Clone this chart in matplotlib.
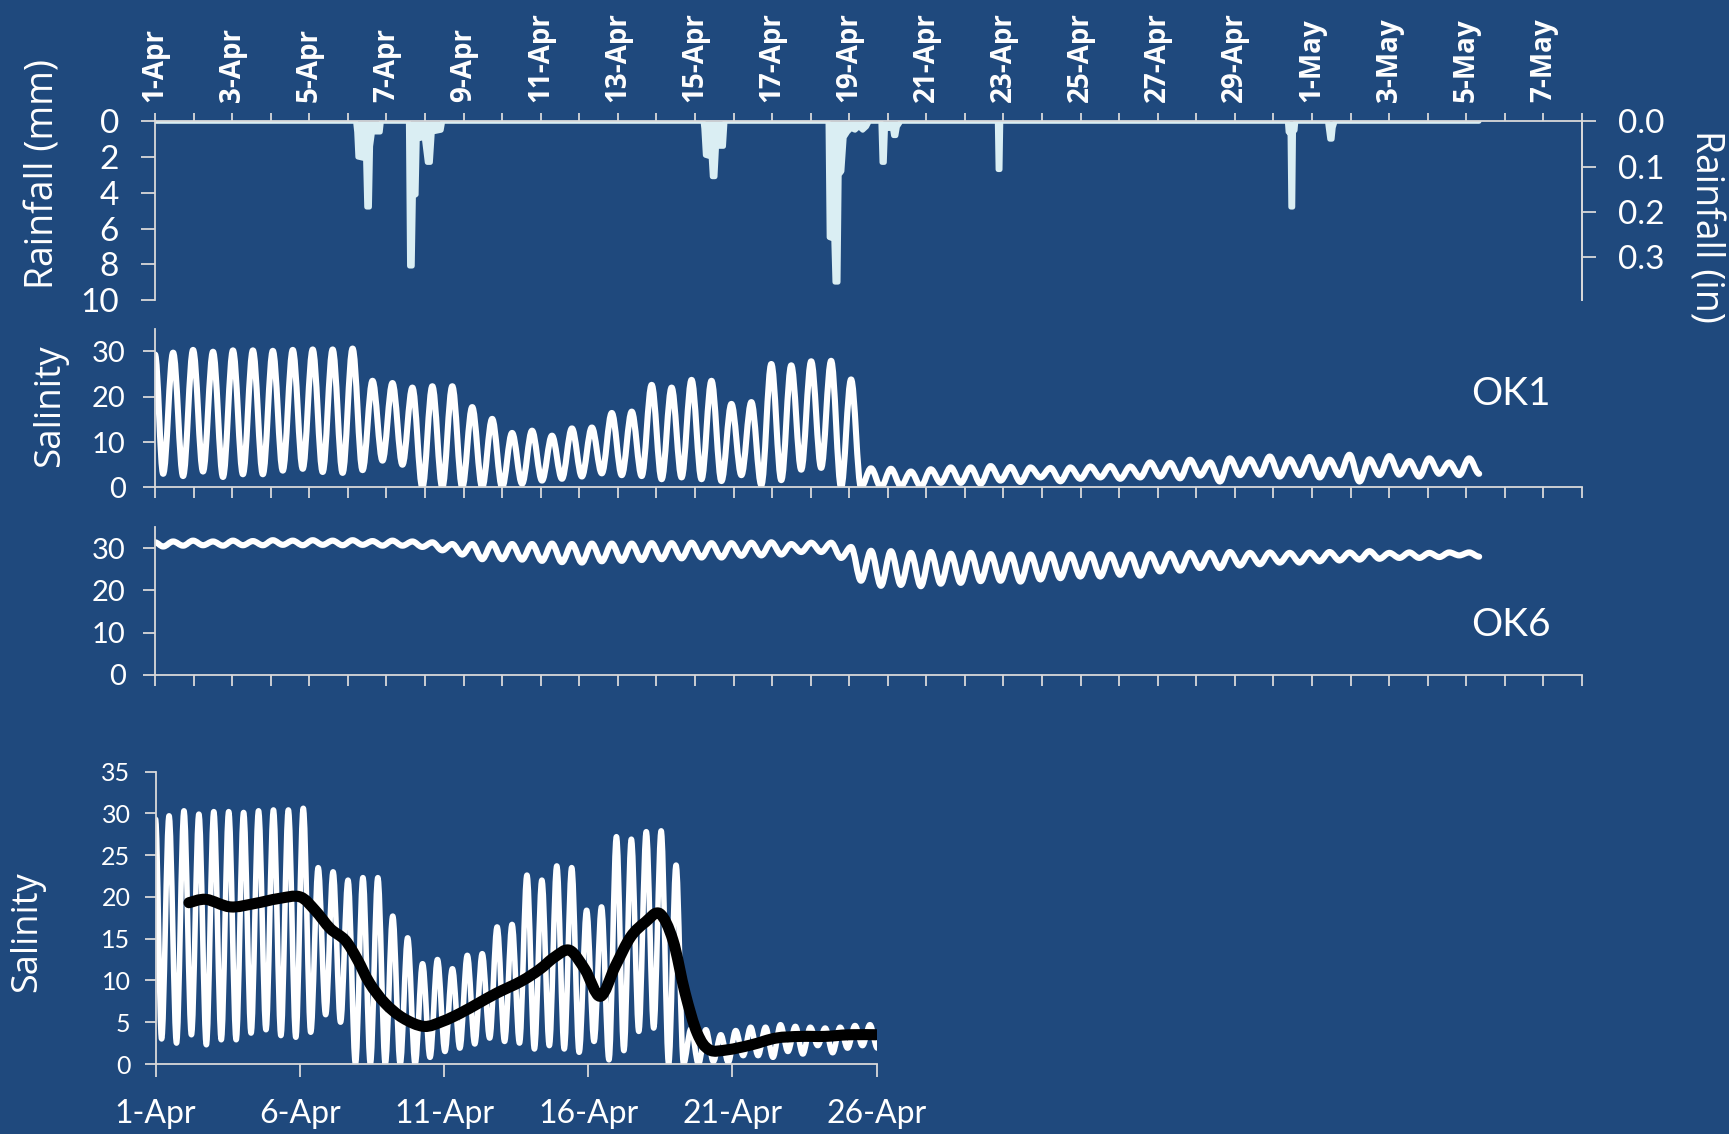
import matplotlib
matplotlib.use("Agg")
import matplotlib.pyplot as plt
from matplotlib.path import Path
from matplotlib.patches import PathPatch

# ---------------------------------------------------------------- data
# Time is measured in days from 1 April 00:00.
top_tick_days = list(range(0, 37, 2))
top_tick_labels = ["1-Apr", "3-Apr", "5-Apr", "7-Apr", "9-Apr", "11-Apr",
                   "13-Apr", "15-Apr", "17-Apr", "19-Apr", "21-Apr", "23-Apr",
                   "25-Apr", "27-Apr", "29-Apr", "1-May", "3-May", "5-May",
                   "7-May"]
bottom_tick_days = [0, 5, 10, 15, 20, 25]
bottom_tick_labels = ["1-Apr", "6-Apr", "11-Apr", "16-Apr", "21-Apr", "26-Apr"]

rain_mm_ticks = [0, 2, 4, 6, 8, 10]
rain_in_ticks = [0.0, 0.1, 0.2, 0.3]
rain_in_labels = ["0.0", "0.1", "0.2", "0.3"]

# Rainfall record (mm)
rain_day = [0.00,
            5.20, 5.23, 5.26, 5.46, 5.49, 5.56, 5.59, 5.64, 5.84, 5.87,
            6.57, 6.60, 6.67, 6.70, 6.77, 6.80, 6.98, 7.06, 7.14, 7.19, 7.42, 7.46,
            14.21, 14.23, 14.27, 14.42, 14.45, 14.52, 14.56, 14.74, 14.78,
            17.45, 17.48, 17.60, 17.63, 17.71, 17.74, 17.81, 17.87, 17.96,
            18.05, 18.15, 18.25, 18.35, 18.45, 18.52,
            18.82, 18.85, 18.91, 18.94, 19.12, 19.15, 19.21, 19.25, 19.34,
            21.84, 21.86, 21.91, 21.93,
            29.36, 29.38, 29.43, 29.45, 29.50, 29.52, 29.56, 29.58,
            30.40, 30.42, 30.46, 30.52, 30.55, 30.60,
            34.33]
rain_mm = [0.0,
           0.0, 0.6, 2.0, 2.1, 4.8, 4.8, 1.4, 0.6, 0.6, 0.0,
           0.0, 8.1, 8.1, 4.2, 4.1, 1.0, 0.9, 2.3, 2.3, 0.6, 0.5, 0.0,
           0.0, 0.4, 1.9, 2.0, 3.1, 3.1, 1.4, 1.4, 0.0,
           0.0, 6.5, 6.6, 9.0, 9.0, 3.0, 2.8, 0.9, 0.6,
           0.4, 0.5, 0.3, 0.5, 0.3, 0.0,
           0.0, 2.3, 2.3, 0.4, 0.4, 0.8, 0.8, 0.3, 0.0,
           0.0, 2.7, 2.7, 0.0,
           0.0, 0.6, 0.7, 4.8, 4.8, 0.6, 0.5, 0.0,
           0.0, 0.35, 1.0, 1.0, 0.35, 0.0,
           0.0]

# Tidal salinity records: value at the start of the record, then the
# low water and high water readings of each tide.  High tide k falls at
# tide_first_high + k * tide_period; the low before it half a period earlier.
tide_first_high = 0.47
tide_period = 0.517

ok1_start = 29.3
ok1_high = [29.7, 30.3, 29.9, 30.2, 30.2, 30.1, 30.3, 30.4, 30.4, 30.6,
            23.5, 23.0, 22.0, 22.3, 22.3, 17.7, 15.1, 12.0, 12.5, 11.4,
            13.0, 13.2, 16.4, 16.7, 22.6, 22.0, 23.7, 23.5, 18.4, 18.8,
            27.2, 26.9, 27.8, 27.9, 23.8, 4.2, 4.1, 3.5, 4.0, 4.4,
            4.4, 4.7, 4.5, 4.4, 4.3, 4.4, 4.6, 4.7, 4.6, 5.5,
            5.4, 6.1, 5.5, 6.4, 6.2, 6.8, 6.2, 6.7, 6.1, 7.2,
            6.2, 6.9, 5.8, 6.4, 5.5, 6.4]
ok1_low = [3.0, 2.5, 3.5, 2.3, 2.9, 2.9, 3.7, 4.1, 3.4, 3.2,
           3.8, 5.9, 5.0, 0.0, 0.0, 0.0, 0.0, 0.0, 0.8, 1.5,
           1.9, 2.4, 3.1, 2.7, 2.5, 1.8, 2.2, 1.8, 1.4, 2.7,
           0.5, 1.6, 3.9, 4.3, 0.0, 0.0, 0.0, 0.3, 0.2, 1.0,
           1.0, 0.8, 1.5, 1.2, 2.2, 1.35, 1.9, 2.2, 1.9, 2.2,
           2.4, 2.0, 2.6, 1.3, 2.7, 2.8, 2.4, 2.7, 2.2, 2.7,
           1.3, 2.7, 2.8, 2.4, 3.0, 2.7, 3.0]

ok6_start = 31.4
ok6_high = [31.6, 31.8, 31.6, 31.8, 31.7, 31.9, 31.8, 31.9, 31.8, 31.9,
            31.7, 31.8, 31.6, 31.4, 31.0, 31.0, 31.1, 31.0, 31.0, 31.1,
            31.0, 31.1, 31.1, 31.1, 31.2, 31.2, 31.3, 31.2, 31.2, 31.3,
            31.4, 31.0, 31.3, 31.3, 30.3, 29.4, 29.3, 28.9, 29.1, 28.7,
            28.9, 28.6, 28.5, 28.5, 28.6, 28.5, 28.6, 28.5, 28.5, 28.6,
            28.7, 28.9, 28.9, 29.1, 28.9, 29.0, 28.9, 29.0, 29.1, 29.0,
            29.3, 28.9, 29.0, 28.9, 29.0, 29.0]
ok6_low = [30.4, 30.6, 30.7, 30.6, 30.7, 30.7, 30.8, 30.7, 30.8, 30.7,
           30.8, 30.6, 30.6, 30.3, 29.5, 28.5, 27.4, 27.4, 27.3, 27.0,
           26.7, 26.6, 26.9, 27.0, 27.2, 27.4, 27.6, 27.8, 27.8, 28.2,
           28.3, 28.5, 29.1, 29.1, 27.7, 22.3, 21.1, 21.3, 21.0, 21.6,
           21.8, 22.2, 22.3, 22.1, 22.6, 22.9, 23.3, 23.3, 23.7, 23.5,
           24.5, 24.7, 25.3, 25.3, 25.9, 26.2, 26.6, 26.6, 26.9, 27.1,
           27.3, 27.5, 27.7, 27.7, 27.9, 28.3, 28.0]

# Tidally averaged OK1 salinity
mean_day = [1.16, 1.75, 2.59, 3.43, 4.27, 5.01, 5.53, 6.06, 6.58, 7.00,
            7.42, 7.95, 8.58, 9.31, 9.95, 10.58, 11.21, 11.84, 12.68, 13.31,
            13.84, 14.36, 14.89, 15.42, 15.94, 16.47, 16.99, 17.48, 17.94,
            18.36, 18.78, 19.20, 19.83, 20.67, 21.51, 22.36, 23.20, 24.04,
            24.98]
mean_sal = [19.3, 19.7, 18.8, 19.2, 19.8, 20.0, 18.4, 16.2, 14.8, 12.5,
            9.7, 7.3, 5.5, 4.5, 5.1, 6.1, 7.3, 8.5, 9.9, 11.3,
            12.8, 13.6, 11.3, 8.1, 11.7, 15.2, 17.0, 18.0, 14.8,
            8.5, 3.7, 1.7, 1.7, 2.3, 3.1, 3.3, 3.3, 3.5,
            3.5]

# ---------------------------------------------------------------- style
W, H, DPI = 1729, 1134, 100
BG = "#1F497D"
RAIN = "#DAEEF3"
AXIS = "#D9D9D9"
TXT = "white"
LABEL_FONT = ["Open Sans", "DejaVu Sans"]
plt.rcParams["font.family"] = ["Lato", "DejaVu Sans"]


def tide_path(start, highs, lows, first_high, period, k=0.36):
    """Smooth curve through the alternating low/high readings."""
    pts = [(0.0, start)]
    for j, lo in enumerate(lows):
        pts.append((first_high + (j - 0.5) * period, lo))
        if j < len(highs):
            pts.append((first_high + j * period, highs[j]))
    verts = [pts[0]]
    codes = [Path.MOVETO]
    for (ta, va), (tb, vb) in zip(pts[:-1], pts[1:]):
        dt = tb - ta
        verts += [(ta + k * dt, va), (tb - k * dt, vb), (tb, vb)]
        codes += [Path.CURVE4] * 3
    return Path(verts, codes)


def smooth_path(xs, ys):
    """Catmull-Rom style smoothed line through the given points."""
    pts = list(zip(xs, ys))
    verts = [pts[0]]
    codes = [Path.MOVETO]
    n = len(pts)
    for i in range(n - 1):
        p0 = pts[max(i - 1, 0)]
        p1 = pts[i]
        p2 = pts[i + 1]
        p3 = pts[min(i + 2, n - 1)]
        c1 = (p1[0] + (p2[0] - p0[0]) / 6, p1[1] + (p2[1] - p0[1]) / 6)
        c2 = (p2[0] - (p3[0] - p1[0]) / 6, p2[1] - (p3[1] - p1[1]) / 6)
        verts += [c1, c2, p2]
        codes += [Path.CURVE4] * 3
    return Path(verts, codes)


def style_axes(ax, spines):
    ax.set_facecolor("none")
    for name, sp in ax.spines.items():
        sp.set_visible(name in spines)
        sp.set_color(AXIS)
        sp.set_linewidth(1.3)
    ax.tick_params(which="both", color=AXIS, width=1.3, labelcolor=TXT,
                   direction="out")


def fx(px):
    return px / W


def fy(py):
    return 1 - py / H


fig = plt.figure(figsize=(W / DPI, H / DPI), dpi=DPI, facecolor=BG)

# ---------------------------------------------------------------- rainfall
ax_r = fig.add_axes([fx(155), fy(300), fx(1582) - fx(155), fy(121.3) - fy(300)])
style_axes(ax_r, ["left", "top", "right"])
ax_r.fill_between(rain_day, rain_mm, 0, color=RAIN, lw=0)
ax_r.plot(rain_day, rain_mm, color=RAIN, lw=3.6,
          solid_joinstyle="round", solid_capstyle="round")
ax_r.set_xlim(0, 37)
ax_r.set_ylim(10, 0)
ax_r.xaxis.tick_top()
ax_r.set_xticks(top_tick_days)
ax_r.set_xticks([d + 1 for d in top_tick_days[:-1]] + [37], minor=True)
ax_r.set_xticklabels(top_tick_labels, rotation=90, fontsize=20,
                     fontweight="bold", family=LABEL_FONT)
ax_r.tick_params(axis="x", which="both", top=True, bottom=False,
                 labeltop=True, labelbottom=False, length=6, pad=8)
ax_r.set_yticks(rain_mm_ticks)
ax_r.tick_params(axis="y", length=10, pad=16, labelsize=24, right=False)

sec = ax_r.secondary_yaxis("right", functions=(lambda mm: mm / 25.4,
                                               lambda inch: inch * 25.4))
sec.set_yticks(rain_in_ticks)
sec.set_yticklabels(rain_in_labels)
for sp in sec.spines.values():
    sp.set_color(AXIS)
    sp.set_linewidth(1.3)
sec.tick_params(color=AXIS, width=1.3, length=10, pad=16, labelsize=24,
                labelcolor=TXT)

fig.text(fx(44), fy(174), "Rainfall (mm)", rotation=90, ha="center",
         va="center", color=TXT, fontsize=27, family=LABEL_FONT)
fig.text(fx(1706), fy(226), "Rainfall (in)", rotation=270, ha="center",
         va="center", color=TXT, fontsize=27, family=LABEL_FONT)

# ---------------------------------------------------------------- OK1 / OK6
panels = [
    (487.4, 328.6, ok1_start, ok1_high, ok1_low, "OK1", 393.7),
    (674.9, 527.1, ok6_start, ok6_high, ok6_low, "OK6", 625.2),
]
for y0, y1, start, highs, lows, name, ty in panels:
    ax = fig.add_axes([fx(155), fy(y0), fx(1582) - fx(155), fy(y1) - fy(y0)])
    style_axes(ax, ["left", "bottom"])
    ax.add_patch(PathPatch(tide_path(start, highs, lows, tide_first_high,
                                     tide_period),
                           fill=False, edgecolor="white", lw=4.4,
                           capstyle="round", joinstyle="round"))
    ax.set_xlim(0, 37)
    ax.set_ylim(0, 35)
    ax.set_xticks(range(0, 38))
    ax.set_xticklabels([])
    ax.set_yticks([0, 10, 20, 30])
    ax.tick_params(axis="x", length=8)
    ax.tick_params(axis="y", length=9, pad=12, labelsize=21)
    fig.text(fx(1511), fy(ty), name, ha="center", va="center", color=TXT,
             fontsize=28)

fig.text(fx(50), fy(406), "Salinity", rotation=90, ha="center", va="center",
         color=TXT, fontsize=26.5, family=LABEL_FONT)

# ---------------------------------------------------------------- detail
axb = fig.add_axes([fx(155.5), fy(1064), fx(876.6) - fx(155.5),
                    fy(771.5) - fy(1064)])
style_axes(axb, ["left", "bottom"])
axb.add_patch(PathPatch(tide_path(ok1_start, ok1_high, ok1_low,
                                  tide_first_high, tide_period),
                        fill=False, edgecolor="white", lw=4.0,
                        capstyle="round", joinstyle="round"))
axb.add_patch(PathPatch(smooth_path(mean_day, mean_sal), fill=False,
                        edgecolor="black", lw=8, capstyle="round",
                        joinstyle="round"))
axb.set_xlim(0, 25)
axb.set_ylim(0, 35)
axb.set_xticks(bottom_tick_days)
axb.set_xticklabels(bottom_tick_labels)
axb.set_yticks(range(0, 36, 5))
axb.tick_params(axis="x", length=9, pad=16, labelsize=23)
axb.tick_params(axis="y", length=8, pad=10, labelsize=18)
fig.text(fx(27), fy(932), "Salinity", rotation=90, ha="center", va="center",
         color=TXT, fontsize=26, family=LABEL_FONT)

fig.savefig("out.png", dpi=DPI, facecolor=BG)
